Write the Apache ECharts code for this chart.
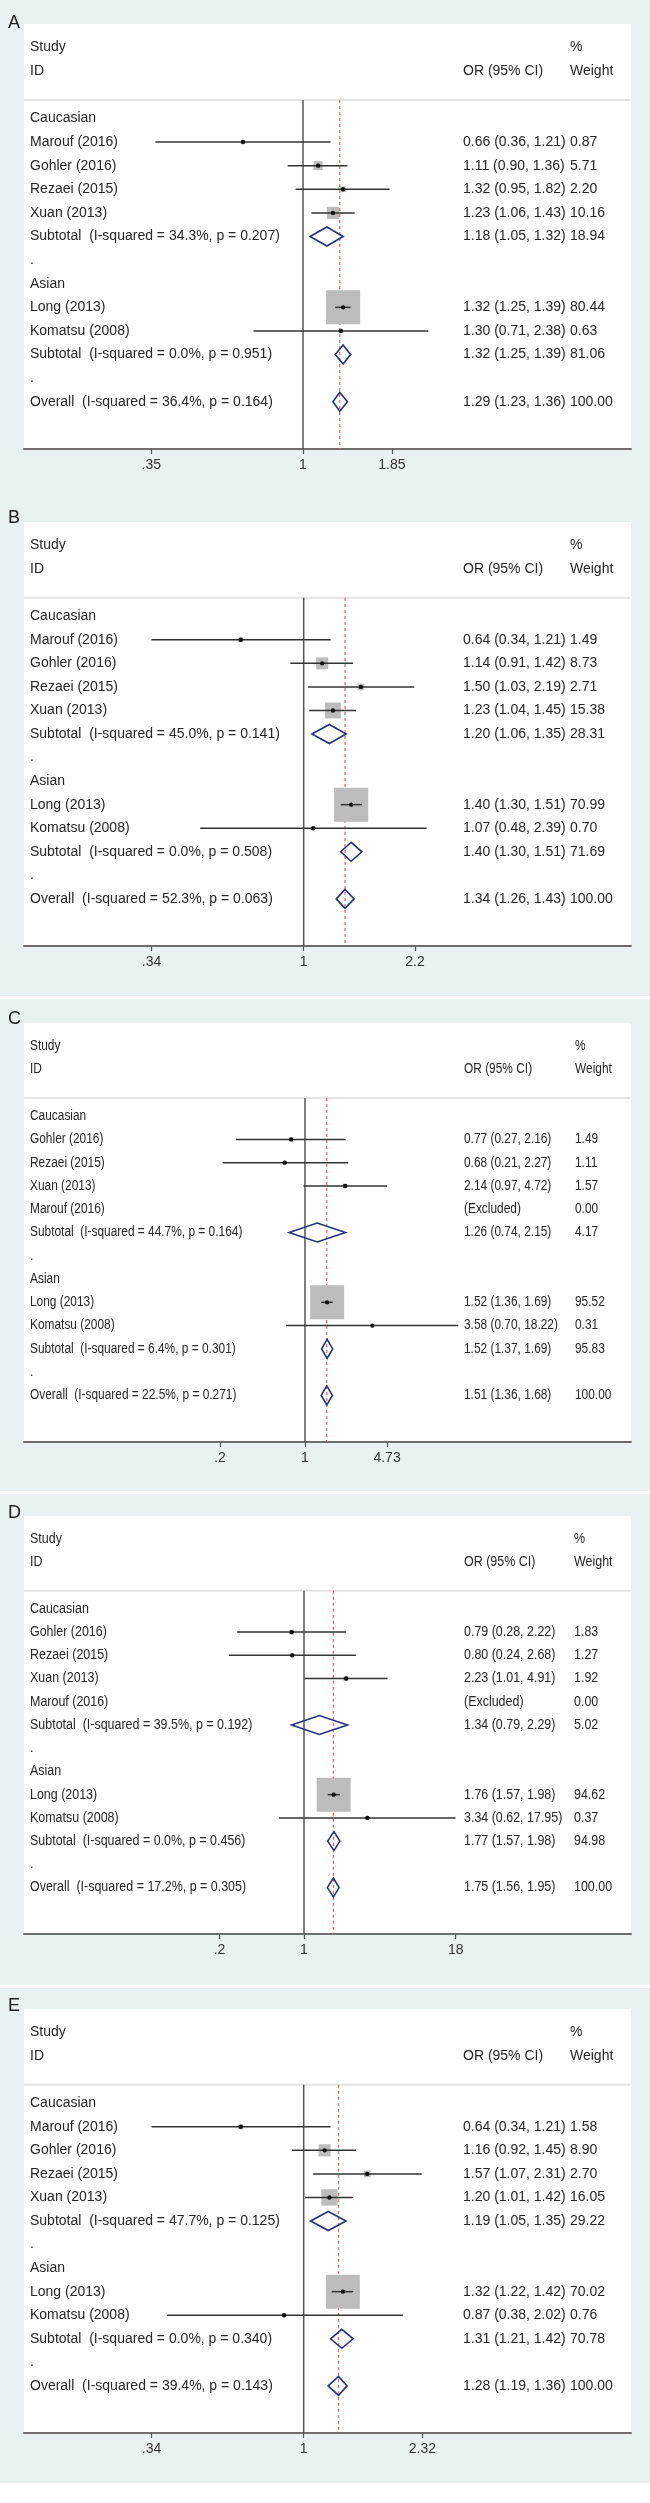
<!DOCTYPE html>
<html><head><meta charset="utf-8">
<script src="https://cdn.jsdelivr.net/npm/echarts@6/dist/echarts.min.js"></script>
<style>html,body{margin:0;padding:0;background:#fff}#c{width:650px;height:2503px}</style>
</head><body><div id="c"></div>
<script>
// row kinds: g = group heading, s = study, p = pooled estimate, b = blank "."
const rowKinds = ['g','s','s','s','s','p','b','g','s','s','p','b','p'];

// ---- Panel A ----
const A_labels = ['Caucasian','Marouf (2016)','Gohler (2016)','Rezaei (2015)','Xuan (2013)','Subtotal  (I-squared = 34.3%, p = 0.207)','.','Asian','Long (2013)','Komatsu (2008)','Subtotal  (I-squared = 0.0%, p = 0.951)','.','Overall  (I-squared = 36.4%, p = 0.164)'];
const A_or = [null,0.66,1.11,1.32,1.23,1.18,null,null,1.32,1.30,1.32,null,1.29];
const A_lo = [null,0.36,0.90,0.95,1.06,1.05,null,null,1.25,0.71,1.25,null,1.23];
const A_hi = [null,1.21,1.36,1.82,1.43,1.32,null,null,1.39,2.38,1.39,null,1.36];
const A_wt = [null,0.87,5.71,2.20,10.16,18.94,null,null,80.44,0.63,81.06,null,100.00];
const A_ticks = [0.35,1,1.85];
const A_tickText = ['.35','1','1.85'];

// ---- Panel B ----
const B_labels = ['Caucasian','Marouf (2016)','Gohler (2016)','Rezaei (2015)','Xuan (2013)','Subtotal  (I-squared = 45.0%, p = 0.141)','.','Asian','Long (2013)','Komatsu (2008)','Subtotal  (I-squared = 0.0%, p = 0.508)','.','Overall  (I-squared = 52.3%, p = 0.063)'];
const B_or = [null,0.64,1.14,1.50,1.23,1.20,null,null,1.40,1.07,1.40,null,1.34];
const B_lo = [null,0.34,0.91,1.03,1.04,1.06,null,null,1.30,0.48,1.30,null,1.26];
const B_hi = [null,1.21,1.42,2.19,1.45,1.35,null,null,1.51,2.39,1.51,null,1.43];
const B_wt = [null,1.49,8.73,2.71,15.38,28.31,null,null,70.99,0.70,71.69,null,100.00];
const B_ticks = [0.34,1,2.2];
const B_tickText = ['.34','1','2.2'];

// ---- Panel C ----
const C_labels = ['Caucasian','Gohler (2016)','Rezaei (2015)','Xuan (2013)','Marouf (2016)','Subtotal  (I-squared = 44.7%, p = 0.164)','.','Asian','Long (2013)','Komatsu (2008)','Subtotal  (I-squared = 6.4%, p = 0.301)','.','Overall  (I-squared = 22.5%, p = 0.271)'];
const C_or = [null,0.77,0.68,2.14,null,1.26,null,null,1.52,3.58,1.52,null,1.51];
const C_lo = [null,0.27,0.21,0.97,null,0.74,null,null,1.36,0.70,1.37,null,1.36];
const C_hi = [null,2.16,2.27,4.72,null,2.15,null,null,1.69,18.22,1.69,null,1.68];
const C_wt = [null,1.49,1.11,1.57,0.00,4.17,null,null,95.52,0.31,95.83,null,100.00];
const C_ticks = [0.2,1,4.73];
const C_tickText = ['.2','1','4.73'];

// ---- Panel D ----
const D_labels = ['Caucasian','Gohler (2016)','Rezaei (2015)','Xuan (2013)','Marouf (2016)','Subtotal  (I-squared = 39.5%, p = 0.192)','.','Asian','Long (2013)','Komatsu (2008)','Subtotal  (I-squared = 0.0%, p = 0.456)','.','Overall  (I-squared = 17.2%, p = 0.305)'];
const D_or = [null,0.79,0.80,2.23,null,1.34,null,null,1.76,3.34,1.77,null,1.75];
const D_lo = [null,0.28,0.24,1.01,null,0.79,null,null,1.57,0.62,1.57,null,1.56];
const D_hi = [null,2.22,2.68,4.91,null,2.29,null,null,1.98,17.95,1.98,null,1.95];
const D_wt = [null,1.83,1.27,1.92,0.00,5.02,null,null,94.62,0.37,94.98,null,100.00];
const D_ticks = [0.2,1,18];
const D_tickText = ['.2','1','18'];

// ---- Panel E ----
const E_labels = ['Caucasian','Marouf (2016)','Gohler (2016)','Rezaei (2015)','Xuan (2013)','Subtotal  (I-squared = 47.7%, p = 0.125)','.','Asian','Long (2013)','Komatsu (2008)','Subtotal  (I-squared = 0.0%, p = 0.340)','.','Overall  (I-squared = 39.4%, p = 0.143)'];
const E_or = [null,0.64,1.16,1.57,1.20,1.19,null,null,1.32,0.87,1.31,null,1.28];
const E_lo = [null,0.34,0.92,1.07,1.01,1.05,null,null,1.22,0.38,1.21,null,1.19];
const E_hi = [null,1.21,1.45,2.31,1.42,1.35,null,null,1.42,2.02,1.42,null,1.36];
const E_wt = [null,1.58,8.90,2.70,16.05,29.22,null,null,70.02,0.76,70.78,null,100.00];
const E_ticks = [0.34,1,2.32];
const E_tickText = ['.34','1','2.32'];

// ---- layout (pixels) ----
const GL = 24, GR = 631;
const panels = [
  {letter:'A', labels:A_labels, or:A_or, lo:A_lo, hi:A_hi, wt:A_wt, ticks:A_ticks, tickText:A_tickText, top:24,   bottom:449,  x1:303, slope:144.5, orX:463, wtX:570, sx:1,    ly:23},
  {letter:'B', labels:B_labels, or:B_or, lo:B_lo, hi:B_hi, wt:B_wt, ticks:B_ticks, tickText:B_tickText, top:522,  bottom:946,  x1:303.7, slope:141.1, orX:463, wtX:570, sx:1, ly:518},
  {letter:'C', labels:C_labels, or:C_or, lo:C_lo, hi:C_hi, wt:C_wt, ticks:C_ticks, tickText:C_tickText, top:1023, bottom:1442, x1:305, slope:52.8, orX:464, wtX:575, sx:0.85,  ly:1019},
  {letter:'D', labels:D_labels, or:D_or, lo:D_lo, hi:D_hi, wt:D_wt, ticks:D_ticks, tickText:D_tickText, top:1516, bottom:1934, x1:304, slope:52.5, orX:464, wtX:574, sx:0.89,  ly:1513},
  {letter:'E', labels:E_labels, or:E_or, lo:E_lo, hi:E_hi, wt:E_wt, ticks:E_ticks, tickText:E_tickText, top:2009, bottom:2433, x1:303.7, slope:141.0, orX:463, wtX:570, sx:1, ly:2006}
];
const YMIN = -4, YMAX = 14, SEP = -0.78;
const FONT = '"Liberation Sans", Arial, sans-serif';
const TXT = '#262626';
const fmt = v => v.toFixed(2);

const grids = [], xAxes = [], yAxes = [], series = [];

panels.forEach((p, k) => {
  const xmin = (GL - p.x1) / p.slope, xmax = (GR - p.x1) / p.slope;
  const tickLn = p.ticks.map(Math.log);
  grids.push({left:GL, width:GR-GL, top:p.top, height:p.bottom-p.top, show:true, backgroundColor:'#ffffff', borderWidth:0, containLabel:false});
  xAxes.push({
    gridIndex:k, type:'value', min:xmin, max:xmax,
    axisLine:{show:true, onZero:false, lineStyle:{color:'#6e6e6e', width:2}},
    axisTick:{show:true, customValues:tickLn, length:5, lineStyle:{color:'#555', width:1.2}},
    axisLabel:{show:true, customValues:tickLn, fontSize:14, color:'#333', margin:9, fontFamily:FONT,
      formatter: v => { let best=0, d=1e9; tickLn.forEach((t,j)=>{ if(Math.abs(t-v)<d){d=Math.abs(t-v);best=j;} }); return p.tickText[best]; }},
    splitLine:{show:false}
  });
  yAxes.push({gridIndex:k, type:'value', min:YMIN, max:YMAX, inverse:true, show:false});

  const common = {xAxisIndex:k, yAxisIndex:k, type:'line', symbol:'none', silent:true, animation:false};
  series.push(Object.assign({}, common, {data:[[xmin,SEP],[xmax,SEP]], lineStyle:{color:'#e4e4e4', width:2}, z:1}));
  series.push(Object.assign({}, common, {data:[[0,SEP],[0,YMAX]], lineStyle:{color:'#555', width:1.5}, z:2}));
  const ov = Math.log(p.or[12]);
  series.push(Object.assign({}, common, {data:[[ov,SEP],[ov,YMAX]], lineStyle:{color:'#c46a6a', width:1.2, type:[3,3]}, z:2}));

  const wmax = Math.max(...p.wt.filter((w,i)=>rowKinds[i]==='s'));
  const data = p.labels.map((_, i) => [p.or[i] ? Math.log(p.or[i]) : 0, i, i]);
  series.push({
    type:'custom', xAxisIndex:k, yAxisIndex:k, coordinateSystem:'cartesian2d', clip:false, silent:true, animation:false, z:5,
    encode:{x:0, y:1},
    data:data,
    renderItem: function(params, api) {
      const i = api.value(2);
      const kind = rowKinds[i];
      const cs = params.coordSys;
      const yAt = r => api.coord([0, r])[1];
      const yc = yAt(i);
      const ch = [];
      const txt = (s, x, y) => ({type:'text', x:x, y:y, scaleX:p.sx, z2:10,
        style:{text:s, x:0, y:0, fill:TXT, fontSize:14, fontFamily:FONT, align:'left', verticalAlign:'middle'}});
      if (i === 0) {
        ch.push(txt('Study', cs.x + 6, yAt(-3)));
        ch.push(txt('ID', cs.x + 6, yAt(-2)));
        ch.push(txt('%', p.wtX, yAt(-3)));
        ch.push(txt('OR (95% CI)', p.orX, yAt(-2)));
        ch.push(txt('Weight', p.wtX, yAt(-2)));
      }
      ch.push(txt(p.labels[i], cs.x + 6, yc));
      if (kind === 's' || kind === 'p') {
        const o = p.or[i];
        if (o == null) {
          ch.push(txt('(Excluded)', p.orX, yc));
        } else {
          ch.push(txt(fmt(o) + ' (' + fmt(p.lo[i]) + ', ' + fmt(p.hi[i]) + ')', p.orX, yc));
          const xo = api.coord([Math.log(o), i])[0];
          const xl = api.coord([Math.log(p.lo[i]), i])[0];
          const xh = api.coord([Math.log(p.hi[i]), i])[0];
          if (kind === 's') {
            const side = 34 * Math.sqrt(p.wt[i] / wmax);
            ch.push({type:'rect', shape:{x:xo-side/2, y:yc-side/2, width:side, height:side}, style:{fill:'#bcbcbc'}});
            ch.push({type:'line', shape:{x1:xl, y1:yc, x2:xh, y2:yc}, style:{stroke:'#333', lineWidth:1.5}});
            ch.push({type:'circle', shape:{cx:xo, cy:yc, r:2.2}, style:{fill:'#111'}});
          } else {
            const h = 9.5;
            ch.push({type:'polygon', shape:{points:[[xl,yc],[xo,yc-h],[xh,yc],[xo,yc+h]]}, style:{fill:'rgba(0,0,0,0)', stroke:'#27307a', lineWidth:1.6}});
          }
        }
        ch.push(txt(fmt(p.wt[i]), p.wtX, yc));
      }
      return {type:'group', children:ch};
    }
  });
});

const graphics = [
  {type:'rect', shape:{x:0, y:996, width:650, height:3}, style:{fill:'#ffffff'}, z:-1},
  {type:'rect', shape:{x:0, y:1491, width:650, height:3}, style:{fill:'#ffffff'}, z:-1},
  {type:'rect', shape:{x:0, y:1985, width:650, height:3}, style:{fill:'#ffffff'}, z:-1},
  {type:'rect', shape:{x:0, y:2483, width:650, height:20}, style:{fill:'#ffffff'}, z:-1}
];
panels.forEach(p => graphics.push({type:'text', x:8, y:p.ly, style:{text:p.letter, fontSize:18, fontFamily:FONT, fill:'#222', verticalAlign:'middle', align:'left'}}));

const chart = echarts.init(document.getElementById('c'), null, {renderer:'canvas'});
chart.setOption({
  backgroundColor:'#e9f1f3',
  animation:false,
  grid:grids, xAxis:xAxes, yAxis:yAxes, series:series, graphic:graphics
});
</script></body></html>
